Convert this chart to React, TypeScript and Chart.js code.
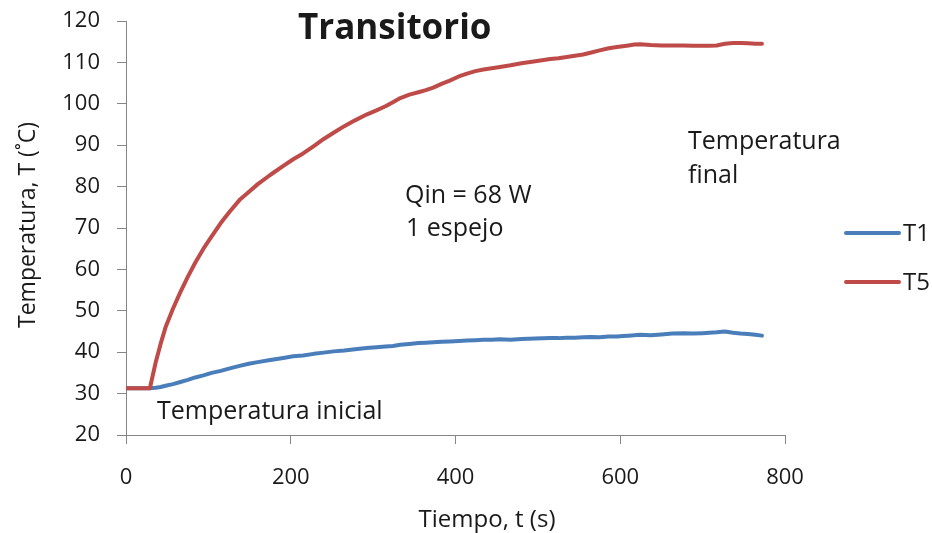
import React, { useEffect, useRef } from "react";
import { Chart, registerables } from "chart.js";

Chart.register(...registerables);

const timeS = [0, 15, 29, 36, 42, 48, 57, 66, 75, 84, 94, 104, 115, 126, 138, 149, 160, 175, 191, 203, 215, 228, 240, 252, 265, 278, 292, 304, 315, 324, 333, 344, 355, 364, 373, 383, 393, 404, 414, 424, 434, 444, 454, 467, 480, 497, 515, 525, 535, 545, 555, 565, 575, 586, 596, 603, 610, 617, 624, 637, 650, 663, 677, 688, 700, 708, 717, 727, 737, 746, 755, 764, 772];

const t5Values = [31.3, 31.3, 31.3, 37.5, 42, 46, 50.5, 54.5, 58.2, 61.6, 65.0, 68.0, 71.2, 74.0, 76.8, 78.7, 80.6, 82.8, 85.0, 86.6, 88.0, 89.8, 91.5, 93.0, 94.6, 96.0, 97.4, 98.4, 99.4, 100.4, 101.4, 102.2, 102.8, 103.3, 103.9, 104.8, 105.6, 106.6, 107.3, 107.9, 108.3, 108.6, 108.9, 109.3, 109.8, 110.3, 110.8, 111.0, 111.3, 111.6, 111.9, 112.4, 112.9, 113.4, 113.7, 113.9, 114.1, 114.3, 114.4, 114.2, 114.1, 114.1, 114.1, 114.0, 114.0, 114.0, 114.1, 114.5, 114.7, 114.7, 114.6, 114.5, 114.5];

const t1Values = [31.3, 31.3, 31.3, 31.4, 31.6, 31.9, 32.3, 32.8, 33.3, 33.9, 34.4, 35.0, 35.5, 36.1, 36.7, 37.2, 37.6, 38.1, 38.6, 39.0, 39.2, 39.6, 39.9, 40.2, 40.4, 40.7, 41.0, 41.2, 41.4, 41.5, 41.8, 42.0, 42.2, 42.3, 42.4, 42.5, 42.6, 42.7, 42.8, 42.9, 43.0, 43.0, 43.1, 43.0, 43.2, 43.3, 43.4, 43.4, 43.5, 43.5, 43.6, 43.7, 43.6, 43.8, 43.8, 43.9, 44.0, 44.1, 44.2, 44.1, 44.3, 44.5, 44.6, 44.5, 44.6, 44.7, 44.8, 45.0, 44.7, 44.5, 44.4, 44.2, 44.0];

const seriesNames = ["T1", "T5"];
const seriesColors = ["#4A7EBB", "#BE4B48"];

const chartTitle = "Transitorio";
const xAxisTitle = "Tiempo, t (s)";
const yAxisTitle = "Temperatura, T (\u02DAC)";
const noteQ = ["Qin = 68 W", "1 espejo"];
const noteFinal = ["Temperatura", "final"];
const noteInitial = "Temperatura inicial";

const FONT = "'Open Sans', 'Noto Sans', sans-serif";
const TEXT = "#1a1a1a";

const textPlugin = {
  id: "texts",
  afterDraw(chart: any) {
    const ctx = chart.ctx;
    ctx.save();
    ctx.fillStyle = TEXT;
    ctx.textAlign = "left";
    ctx.textBaseline = "alphabetic";

    ctx.font = `bold 35px ${FONT}`;
    ctx.fillText(chartTitle, 298, 39);

    ctx.font = `25px ${FONT}`;
    ctx.fillText(noteQ[0], 405, 203);
    ctx.fillText(noteQ[1], 406, 236);
    ctx.fillText(noteFinal[0], 688, 149);
    ctx.fillText(noteFinal[1], 688, 183);
    ctx.fillText(noteInitial, 157, 419);

    ctx.font = `24px ${FONT}`;
    ctx.textAlign = "center";
    ctx.fillText(xAxisTitle, 487, 527);

    ctx.save();
    ctx.translate(35, 225);
    ctx.rotate(-Math.PI / 2);
    ctx.font = `23px ${FONT}`;
    ctx.fillText(yAxisTitle, 0, 0);
    ctx.restore();

    // legend
    const legendY = [233, 282];
    ctx.textAlign = "left";
    ctx.font = `24px ${FONT}`;
    seriesNames.forEach((name, i) => {
      ctx.strokeStyle = seriesColors[i];
      ctx.lineWidth = 4;
      ctx.lineCap = "round";
      ctx.beginPath();
      ctx.moveTo(846, legendY[i]);
      ctx.lineTo(899, legendY[i]);
      ctx.stroke();
      ctx.fillStyle = TEXT;
      ctx.fillText(name, 903, legendY[i] + 8);
    });
    ctx.restore();
  },
};

export default function App() {
  const ref = useRef<HTMLCanvasElement | null>(null);

  useEffect(() => {
    if (!ref.current) return;
    const mk = (vals: number[]) => timeS.map((t, i) => ({ x: t, y: vals[i] }));
    const chart = new Chart(ref.current, {
      type: "line",
      data: {
        datasets: [
          {
            label: seriesNames[0],
            data: mk(t1Values),
            borderColor: seriesColors[0],
            backgroundColor: seriesColors[0],
            borderWidth: 4,
            pointRadius: 0,
            borderJoinStyle: "round",
            borderCapStyle: "round",
            order: 1,
          },
          {
            label: seriesNames[1],
            data: mk(t5Values),
            borderColor: seriesColors[1],
            backgroundColor: seriesColors[1],
            borderWidth: 4,
            pointRadius: 0,
            borderJoinStyle: "round",
            borderCapStyle: "round",
            order: 0,
          },
        ],
      },
      options: {
        responsive: false,
        animation: false,
        layout: { padding: { top: 21, right: 147, left: 0, bottom: 0 } },
        plugins: {
          legend: { display: false },
          title: { display: false },
          tooltip: { enabled: false },
        },
        scales: {
          x: {
            type: "linear",
            min: 0,
            max: 800,
            ticks: {
              stepSize: 200,
              color: TEXT,
              font: { family: FONT, size: 22 },
              padding: 21,
              maxRotation: 0,
            },
            grid: {
              display: true,
              drawOnChartArea: false,
              drawTicks: true,
              tickLength: 9,
              color: "#868686",
            },
            border: { display: true, color: "#868686", width: 1 },
            afterFit: (s: any) => {
              s.height = 98;
              s.paddingLeft = 0;
              s.paddingRight = 0;
            },
          },
          y: {
            type: "linear",
            min: 20,
            max: 120,
            ticks: {
              stepSize: 10,
              color: TEXT,
              font: { family: FONT, size: 22 },
              padding: 17,
            },
            grid: {
              display: true,
              drawOnChartArea: false,
              drawTicks: true,
              tickLength: 9,
              color: "#868686",
            },
            border: { display: true, color: "#868686", width: 1 },
            afterFit: (s: any) => {
              s.width = 126;
              s.paddingTop = 0;
              s.paddingBottom = 0;
            },
          },
        },
      },
      plugins: [textPlugin],
    } as any);
    return () => chart.destroy();
  }, []);

  return (
    <div style={{ position: "fixed", left: 0, top: 0, width: 932, height: 533, background: "#fff" }}>
      <canvas ref={ref} width={932} height={533} style={{ display: "block" }} />
    </div>
  );
}
